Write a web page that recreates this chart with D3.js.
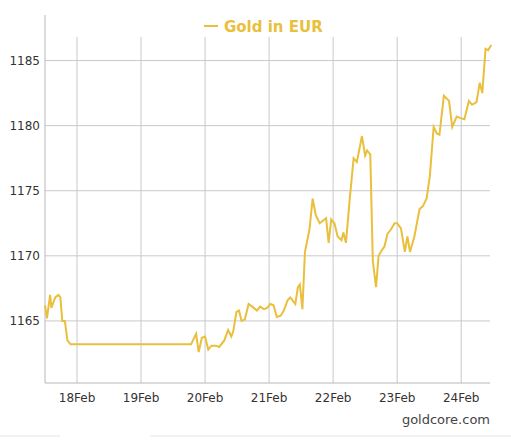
<!DOCTYPE html>
<html><head><meta charset="utf-8">
<script src="https://cdn.jsdelivr.net/npm/d3@7"></script>
<style>body{margin:0;background:#fff}</style>
</head><body><div id="chart"></div>
<script>
// day of February (fractional) and price in EUR
const days = [17.5,17.53,17.58,17.6,17.66,17.71,17.74,17.77,17.81,17.85,17.9,19.78,19.86,19.9,19.95,20.0,20.05,20.1,20.17,20.22,20.3,20.36,20.41,20.44,20.49,20.53,20.57,20.62,20.68,20.76,20.81,20.86,20.92,20.97,21.02,21.07,21.12,21.18,21.23,21.29,21.33,21.41,21.45,21.48,21.52,21.56,21.63,21.68,21.73,21.79,21.84,21.89,21.93,21.97,22.02,22.07,22.13,22.16,22.2,22.26,22.32,22.37,22.45,22.5,22.53,22.58,22.62,22.67,22.71,22.77,22.8,22.85,22.9,22.96,23.0,23.06,23.12,23.16,23.2,23.27,23.35,23.4,23.46,23.51,23.57,23.62,23.66,23.73,23.81,23.86,23.93,23.98,24.05,24.12,24.17,24.24,24.29,24.33,24.38,24.42,24.47];
const prices = [1166.2,1165.2,1167,1166,1166.8,1167,1166.8,1165,1165,1163.5,1163.2,1163.2,1164,1162.6,1163.7,1163.8,1162.8,1163.1,1163.1,1163,1163.5,1164.3,1163.8,1164.2,1165.7,1165.8,1165,1165.1,1166.3,1166,1165.8,1166.1,1165.9,1166,1166.3,1166.2,1165.3,1165.4,1165.8,1166.6,1166.8,1166.3,1167.6,1167.8,1165.9,1170.3,1172,1174.4,1173.1,1172.5,1172.7,1172.9,1171,1172.8,1172.5,1171.5,1171.2,1171.8,1171,1174.4,1177.5,1177.2,1179.2,1177.7,1178.1,1177.8,1169.6,1167.6,1170,1170.5,1170.7,1171.7,1172,1172.5,1172.5,1172.1,1170.3,1171.5,1170.3,1171.5,1173.6,1173.8,1174.4,1176.1,1179.9,1179.4,1179.3,1182.3,1181.9,1179.9,1180.7,1180.6,1180.5,1181.9,1181.6,1181.8,1183.3,1182.5,1185.9,1185.8,1186.2];
const yTicks = [1165,1170,1175,1180,1185];
const xTicks = [18,19,20,21,22,23,24];

const W = 511, H = 444, left = 45, right = 490, bottom = 383;
const gold = "#e9bf3c", grid = "#c9c9cc";
const svg = d3.select("#chart").append("svg").attr("width", W).attr("height", H)
  .style("font-family", "DejaVu Sans, sans-serif");

const x = d3.scaleLinear().domain([17.5, 24.45]).range([left, right]);
const y = d3.scaleLinear().domain([1160.23, 1188.5]).range([bottom, 15]);

// grid
svg.append("g").selectAll("line").data(yTicks).join("line")
  .attr("x1", left).attr("x2", right).attr("y1", d => y(d)).attr("y2", d => y(d))
  .attr("stroke", grid);
svg.append("g").selectAll("line").data(xTicks).join("line")
  .attr("x1", d => x(d)).attr("x2", d => x(d)).attr("y1", 37).attr("y2", bottom)
  .attr("stroke", grid);
svg.append("line").attr("x1", left).attr("x2", left).attr("y1", 15).attr("y2", bottom).attr("stroke", "#b8b8bc");
svg.append("line").attr("x1", left).attr("x2", right).attr("y1", bottom).attr("y2", bottom).attr("stroke", "#b8b8bc");

// tick labels
svg.append("g").selectAll("text").data(yTicks).join("text")
  .attr("x", 40).attr("y", d => y(d) + 4).attr("text-anchor", "end")
  .attr("font-size", 12).attr("fill", "#333").text(d => d);
svg.append("g").selectAll("text").data(xTicks).join("text")
  .attr("x", d => x(d)).attr("y", 402).attr("text-anchor", "middle")
  .attr("font-size", 12).attr("fill", "#333").text(d => d + "Feb");

// line
svg.append("path")
  .datum(days.map((d, i) => [d, prices[i]]))
  .attr("fill", "none").attr("stroke", gold).attr("stroke-width", 2)
  .attr("d", d3.line().x(d => x(d[0])).y(d => y(d[1])));

// legend title
svg.append("line").attr("x1", 204).attr("x2", 218).attr("y1", 26).attr("y2", 26)
  .attr("stroke", gold).attr("stroke-width", 2);
svg.append("text").attr("x", 224).attr("y", 32).attr("font-size", 15)
  .attr("font-weight", "bold").attr("fill", gold).text("Gold in EUR");

svg.append("text").attr("x", 490).attr("y", 424).attr("text-anchor", "end")
  .attr("font-size", 13).attr("fill", "#444").text("goldcore.com");
svg.append("line").attr("x1", 0).attr("x2", 60).attr("y1", 436).attr("y2", 436).attr("stroke", "#e4e4e4");
svg.append("line").attr("x1", 150).attr("x2", 511).attr("y1", 436).attr("y2", 436).attr("stroke", "#e4e4e4");
</script></body></html>
